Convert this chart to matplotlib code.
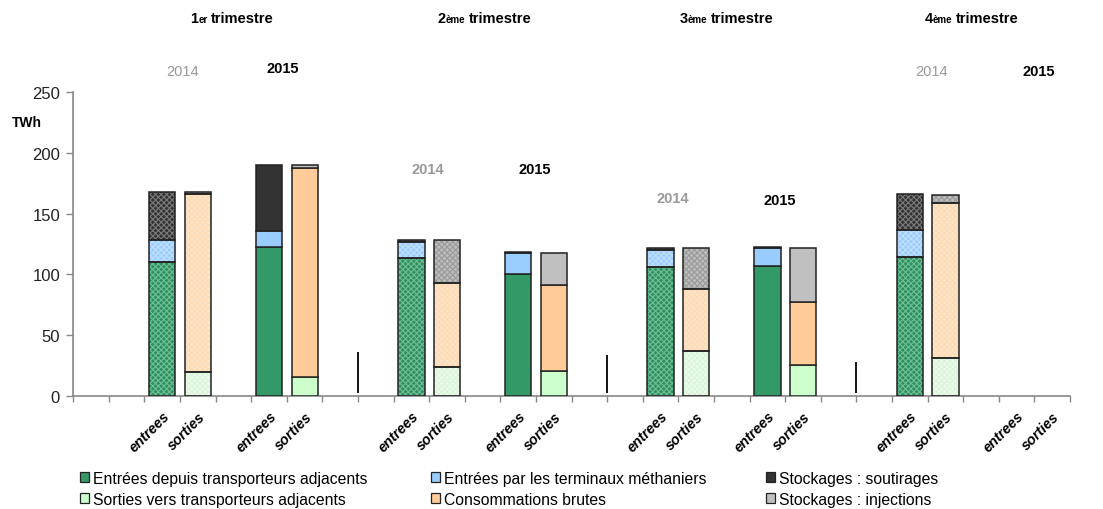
import matplotlib
matplotlib.use("Agg")
import matplotlib.pyplot as plt
from matplotlib.patches import Patch

plt.rcParams['font.family'] = ['Liberation Sans', 'DejaVu Sans']
plt.rcParams['hatch.linewidth'] = 0.8

# ---------------- data ----------------
categories = ['', '', 'entrees', 'sorties', '', 'entrees', 'sorties', '',
              '', 'entrees', 'sorties', '', 'entrees', 'sorties', '',
              '', 'entrees', 'sorties', '', 'entrees', 'sorties', '',
              '', 'entrees', 'sorties', '', 'entrees', 'sorties']
bar_year = ['', '', '2014', '2014', '', '2015', '2015', '',
            '', '2014', '2014', '', '2015', '2015', '',
            '', '2014', '2014', '', '2015', '2015', '',
            '', '2014', '2014', '', '2015', '2015']

entrees_adj  = [0, 0, 110.2, 0, 0, 122.3, 0, 0,  0, 113.5, 0, 0, 100.1, 0, 0,
                0, 105.9, 0, 0, 106.9, 0, 0,  0, 114.6, 0, 0, 0, 0]
entrees_term = [0, 0, 18.3, 0, 0, 13.1, 0, 0,  0, 13.4, 0, 0, 17.9, 0, 0,
                0, 14.2, 0, 0, 15.1, 0, 0,  0, 22.1, 0, 0, 0, 0]
soutirages   = [0, 0, 39.4, 0, 0, 54.4, 0, 0,  0, 1.6, 0, 0, 0.5, 0, 0,
                0, 1.9, 0, 0, 0.8, 0, 0,  0, 29.3, 0, 0, 0, 0]
sorties_adj  = [0, 0, 0, 19.7, 0, 0, 15.8, 0,  0, 0, 24.3, 0, 0, 21.0, 0,
                0, 0, 37.4, 0, 0, 25.9, 0,  0, 0, 31.2, 0, 0, 0]
consommations = [0, 0, 0, 146.3, 0, 0, 171.3, 0,  0, 0, 68.3, 0, 0, 70.6, 0,
                 0, 0, 50.4, 0, 0, 51.5, 0,  0, 0, 127.7, 0, 0, 0]
injections   = [0, 0, 0, 1.9, 0, 0, 2.7, 0,  0, 0, 35.9, 0, 0, 26.3, 0,
                0, 0, 33.8, 0, 0, 44.2, 0,  0, 0, 6.3, 0, 0, 0]

series_names = ['Entrées depuis transporteurs adjacents', 'Entrées par les terminaux méthaniers',
                'Stockages : soutirages', 'Sorties vers transporteurs adjacents',
                'Consommations brutes', 'Stockages : injections']

quarter_titles = [('1', 'er', 'trimestre'), ('2', 'ème', 'trimestre'),
                  ('3', 'ème', 'trimestre'), ('4', 'ème', 'trimestre')]
quarter_title_x = [3.96, 11.06, 17.86, 24.74]

year_labels = ['2014', '2015', '2014', '2015', '2014', '2015', '2014', '2015']
year_label_x = [2.58, 5.39, 9.45, 12.46, 16.35, 19.35, 23.6, 26.63]
year_label_y = [267, 269.5, 186.6, 186.6, 162.8, 161.4, 267, 267]
year_label_bold = [False, True, True, True, True, True, False, True]

separator_x = [7.5, 14.5, 21.5]
separator_top = [36.1, 33.9, 28.4]
separator_bottom = 2.7

# ---------------- styles ----------------
solid_colors = ['#339966', '#99CCFF', '#333333', '#CCFFCC', '#FFCC99', '#C0C0C0']
pat_face = ['#2E9060', '#99CCFF', '#333333', '#ECFBEC', '#FBE6CC', '#BDBDBD']
pat_hatch = ['#6FBF95', '#C2E0FF', '#7A7A7A', '#D9F4D9', '#FFD9B0', '#9A9A9A']
edge = '#222222'

W, H = 1103, 510
fig = plt.figure(figsize=(W / 100, H / 100), dpi=100)
ax = fig.add_axes([73.3 / W, 1 - 397.3 / H, (1070 - 73.3) / W, 304.6 / H])

x = list(range(len(categories)))
bw = 0.74
stacks = [(entrees_adj, entrees_term, soutirages), (sorties_adj, consommations, injections)]
for si, stack in enumerate(stacks):
    bottom = [0.0] * len(x)
    for li, vals in enumerate(stack):
        k = si * 3 + li
        for xi in x:
            v = vals[xi]
            if v <= 0:
                continue
            if bar_year[xi] == '2014':
                ax.bar(xi, v, bw, bottom=bottom[xi], color=pat_face[k], edgecolor=pat_hatch[k],
                       hatch='xxxxxx', linewidth=0, zorder=2)
                ax.bar(xi, v, bw, bottom=bottom[xi], fill=False, edgecolor=edge, linewidth=1.1, zorder=3)
            else:
                ax.bar(xi, v, bw, bottom=bottom[xi], color=solid_colors[k], edgecolor=edge,
                       linewidth=1.1, zorder=3)
        bottom = [b + v for b, v in zip(bottom, vals)]

ax.vlines(separator_x, separator_bottom, separator_top, color='black', linewidth=1.3, zorder=3)

ax.set_xlim(-0.5, len(categories) - 0.5)
ax.set_ylim(0, 250)
ax.set_yticks([0, 50, 100, 150, 200, 250])
ax.tick_params(axis='y', labelsize=12, labelcolor='#222222', color='#888888', length=5, width=1, pad=4.5)
lab_idx = [i for i, c in enumerate(categories) if c]
ax.set_xticks(lab_idx)
ax.set_xticklabels([categories[i] for i in lab_idx], rotation=45, ha='right',
                   rotation_mode='anchor', fontsize=10.3, fontweight='bold', fontstyle='italic')
ax.tick_params(axis='x', which='major', length=0, pad=9)
ax.set_xticks([i - 0.5 for i in range(len(categories) + 1)], minor=True)
ax.tick_params(axis='x', which='minor', length=4, color='#888888', width=1)
for s in ['top', 'right']:
    ax.spines[s].set_visible(False)
for s in ['left', 'bottom']:
    ax.spines[s].set_color('#888888')
    ax.spines[s].set_linewidth(1.2)

ax.text(-1.8, 225, 'TWh', fontsize=10, fontweight='bold', ha='center', va='center')

for lab, lx, ly, b in zip(year_labels, year_label_x, year_label_y, year_label_bold):
    col = '#999999' if lab == '2014' else 'black'
    ax.text(lx, ly, lab, fontsize=10.5, color=col, fontweight='bold' if b else 'normal',
            ha='center', va='center')

# quarter titles with small "er"/"ème"
renderer = fig.canvas.get_renderer()
for parts, qx in zip(quarter_titles, quarter_title_x):
    cx = ax.transData.transform((qx, 0))[0]
    sizes = [10.5, 7, 10.5]
    gaps = [0, 3.5, 0]
    texts = [fig.text(0, 1 - 23 / H, p, fontsize=sz, fontweight='bold', ha='left', va='baseline')
             for p, sz in zip(parts, sizes)]
    widths = [t.get_window_extent(renderer).width for t in texts]
    total = sum(widths) + sum(gaps)
    xs = cx - total / 2
    for t, w, g in zip(texts, widths, gaps):
        t.set_x(xs / W)
        xs += w + g

# legend in three columns
handles = [Patch(facecolor=c, edgecolor=edge, linewidth=0.9) for c in solid_colors]
col_x = [80, 431, 766]
for ci in range(3):
    fig.legend([handles[ci], handles[ci + 3]], [series_names[ci], series_names[ci + 3]],
               loc='upper left', bbox_to_anchor=(col_x[ci] / W, 1 - 472 / H),
               frameon=False, fontsize=11.3, handlelength=0.6, handleheight=0.6,
               handletextpad=0.25, borderpad=0, borderaxespad=0, labelspacing=0.38)

fig.savefig('out.png', dpi=100)
